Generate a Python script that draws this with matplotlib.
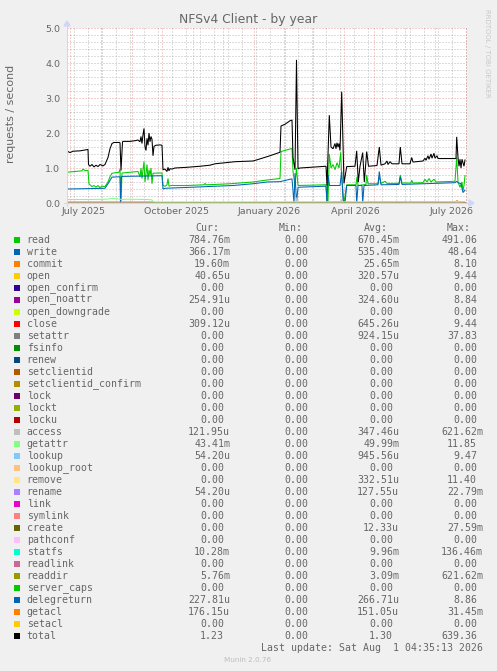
import matplotlib
matplotlib.use("Agg")
import matplotlib.pyplot as plt
from matplotlib.patches import Rectangle, Polygon
from matplotlib.lines import Line2D

# ---------------- data ----------------
names = ["read", "write", "commit", "open", "open_confirm", "open_noattr", "open_downgrade",
         "close", "setattr", "fsinfo", "renew", "setclientid", "setclientid_confirm", "lock",
         "lockt", "locku", "access", "getattr", "lookup", "lookup_root", "remove", "rename",
         "link", "symlink", "create", "pathconf", "statfs", "readlink", "readdir",
         "server_caps", "delegreturn", "getacl", "setacl", "total"]
colors = ["#00CC00", "#0066B3", "#FF8000", "#FFCC00", "#330099", "#990099", "#CCFF00",
          "#FF0000", "#808080", "#008F00", "#00487D", "#B35A00", "#B38F00", "#6B006B",
          "#8FB300", "#B30000", "#BEBEBE", "#80FF80", "#80C9FF", "#FFC080", "#FFE680",
          "#AA80FF", "#EE00CC", "#FF8080", "#666600", "#FFBFFF", "#00FFCC", "#CC6699",
          "#999900", "#00CC00", "#0066B3", "#FF8000", "#FFCC00", "#000000"]
cur = ["784.76m", "366.17m", "19.60m", "40.65u", "0.00", "254.91u", "0.00", "309.12u", "0.00",
       "0.00", "0.00", "0.00", "0.00", "0.00", "0.00", "0.00", "121.95u", "43.41m", "54.20u",
       "0.00", "0.00", "54.20u", "0.00", "0.00", "0.00", "0.00", "10.28m", "0.00", "5.76m",
       "0.00", "227.81u", "176.15u", "0.00", "1.23"]
mins = ["0.00"] * 34
avg = ["670.45m", "535.40m", "25.65m", "320.57u", "0.00", "324.60u", "0.00", "645.26u",
       "924.15u", "0.00", "0.00", "0.00", "0.00", "0.00", "0.00", "0.00", "347.46u", "49.99m",
       "945.56u", "0.00", "332.51u", "127.55u", "0.00", "0.00", "12.33u", "0.00", "9.96m",
       "0.00", "3.09m", "0.00", "266.71u", "151.05u", "0.00", "1.30"]
mx = ["491.06", "48.64", "8.10", "9.44", "0.00", "8.84", "0.00", "9.44", "37.83", "0.00",
      "0.00", "0.00", "0.00", "0.00", "0.00", "0.00", "621.62m", "11.85", "9.47", "0.00",
      "11.40", "22.79m", "0.00", "0.00", "27.59m", "0.00", "136.46m", "0.00", "621.62m",
      "0.00", "8.86", "31.45m", "0.00", "639.36"]

# time axis: days since 28 Jun 2025
month_starts = [3, 34, 65, 95, 126, 156, 187, 218, 246, 277, 307, 338, 368, 399]
label_days = [17, 109, 202, 288, 385]
label_text = ["July 2025", "October 2025", "January 2026", "April 2026", "July 2026"]
week2_first = 7.3

total_x = [0, 1, 3, 6, 13, 21, 21.5, 23, 25, 27, 29, 31, 33, 36, 38, 41, 43, 45, 47, 52, 53, 54,
           55.5, 56, 63, 68, 71, 73, 74, 75, 76, 77, 78, 79, 80, 81, 82, 83, 84, 85, 86, 87, 89,
           93, 95, 96, 98, 100, 101, 102, 103, 105, 108, 120, 133, 143, 148, 158, 168, 186, 193,
           203, 213, 214, 218, 223, 225, 226, 228, 229.5, 231, 233, 243, 253, 259, 260, 262.3,
           264, 266, 268, 269, 270, 271, 272, 273, 274.7, 277, 279.7, 288, 289.7, 291.3, 293,
           295.7, 297.3, 299.7, 301.5, 310, 312.3, 314, 318, 320, 321, 323, 325, 332, 333.3,
           335, 343, 344.7, 346, 356, 358, 359, 361, 362, 364, 365, 367, 368, 370, 371, 375,
           385, 389, 389.7, 391, 392, 393, 394, 395, 397, 398]
total_y = [1.45, 1.47, 1.44, 1.48, 1.49, 1.53, 1.10, 1.05, 1.10, 1.03, 1.08, 1.04, 1.10, 1.06,
           1.10, 1.30, 1.55, 1.70, 1.73, 1.73, 1.72, 0.93, 1.74, 1.76, 1.76, 1.78, 1.80, 1.75,
           1.90, 1.70, 1.95, 2.13, 1.60, 1.50, 1.85, 1.65, 2.00, 1.75, 1.90, 1.82, 1.35, 1.62,
           1.65, 1.66, 1.65, 0.95, 0.97, 0.90, 1.02, 0.92, 0.98, 0.97, 1.00, 1.02, 1.05, 1.08,
           1.12, 1.15, 1.18, 1.20, 1.26, 1.35, 1.45, 2.20, 2.25, 2.35, 2.37, 1.30, 0.95, 4.09,
           0.98, 1.00, 1.02, 1.04, 1.05, 0.50, 2.51, 1.60, 1.55, 1.70, 1.55, 1.72, 1.60, 1.70,
           1.50, 3.18, 0.56, 1.04, 1.05, 1.49, 0.60, 1.05, 1.44, 0.60, 1.47, 1.05, 1.07, 1.60,
           1.08, 1.12, 1.20, 1.10, 1.18, 1.12, 1.12, 1.60, 1.12, 1.12, 1.30, 1.17, 1.20, 1.28,
           1.22, 1.35, 1.25, 1.40, 1.28, 1.42, 1.28, 1.35, 1.27, 1.27, 1.27, 1.27, 1.89, 1.30,
           1.05, 1.25, 1.00, 1.25, 1.05, 1.23]

read_x = [0, 8, 15, 16, 18, 21, 22, 23, 25, 27, 29, 31, 33, 35, 38, 41, 43, 45, 52, 53, 54, 55,
          56, 71, 73, 74, 75, 76, 77, 78, 79, 80, 81, 82, 83, 84, 85, 86, 95, 96, 98, 100, 101,
          102, 104, 120, 137, 138, 139, 148, 163, 186, 198, 213, 214, 225, 226, 228, 229.5, 231,
          259, 260, 261, 262.3, 264, 266, 268, 270, 272, 273.7, 275, 277, 279.7, 289, 290, 291,
          299, 299.7, 301, 311, 312.3, 314, 318, 320, 332, 333.3, 335, 344, 344.7, 346, 356,
          358, 360, 362, 364, 367, 369, 388, 389.7, 391, 393, 395, 396, 397, 398]
read_y = [0.88, 0.90, 0.92, 0.97, 0.93, 0.93, 0.55, 0.52, 0.47, 0.50, 0.45, 0.50, 0.44, 0.48,
          0.47, 0.60, 0.75, 0.85, 0.88, 0.97, 0.05, 0.85, 0.86, 0.90, 0.75, 1.00, 0.70, 0.95,
          1.18, 0.60, 0.85, 1.10, 0.65, 0.95, 0.80, 1.00, 0.55, 0.85, 0.86, 0.50, 0.48, 0.52,
          0.70, 0.48, 0.50, 0.50, 0.52, 0.56, 0.52, 0.53, 0.55, 0.60, 0.65, 0.70, 1.47, 1.56,
          0.90, 0.50, 1.00, 0.50, 0.52, 0.05, 0.05, 1.40, 1.00, 1.10, 0.95, 1.15, 1.00, 1.45,
          0.60, 0.00, 0.52, 0.52, 0.75, 0.50, 0.53, 0.80, 0.55, 0.55, 0.75, 0.56, 0.62, 0.56,
          0.56, 0.80, 0.57, 0.57, 0.65, 0.57, 0.58, 0.68, 0.60, 0.70, 0.60, 0.68, 0.60, 0.62,
          1.30, 0.60, 0.45, 0.60, 0.35, 0.50, 0.785]

write_x = [0, 38, 41, 45, 53, 53.5, 54.5, 56, 95, 96, 98, 133, 166, 186, 200, 213, 225, 227,
           228, 229.5, 231, 259, 260, 261, 262.5, 273, 274.7, 276, 278, 279.7, 289, 289.7, 291,
           295, 295.7, 297, 311, 312.3, 314, 332, 333.3, 335, 388, 389.7, 391, 394, 396, 398]
write_y = [0.40, 0.42, 0.55, 0.74, 0.75, 0.00, 0.75, 0.76, 0.78, 0.40, 0.42, 0.46, 0.50, 0.55,
           0.60, 0.61, 0.69, 0.00, 0.85, 0.00, 0.45, 0.48, 0.00, 0.80, 0.50, 0.50, 0.90, 0.10,
           0.00, 0.50, 0.50, 0.00, 0.50, 0.50, 0.00, 0.50, 0.52, 0.90, 0.52, 0.53, 0.75, 0.53,
           0.58, 0.62, 0.58, 0.55, 0.30, 0.366]

getattr_x = [0, 20, 40, 45, 50, 55, 60, 80, 85, 86, 150, 250, 398]
getattr_y = [0.10, 0.10, 0.11, 0.13, 0.12, 0.10, 0.11, 0.10, 0.09, 0.03, 0.03, 0.035, 0.043]

commit_x = [0, 86, 87, 259, 260, 275, 276, 300, 301, 325, 330, 340, 365, 388, 390, 392, 398]
commit_y = [0.03, 0.03, 0.005, 0.005, 0.03, 0.03, 0.005, 0.005, 0.03, 0.03, 0.02, 0.035, 0.03,
            0.03, 0.07, 0.03, 0.02]

access_x = [0, 229, 229.5, 230, 274, 275, 276, 398]
access_y = [0, 0, 0.15, 0, 0, 0.12, 0, 0]

statfs_x = [0, 398]
statfs_y = [0.01, 0.01]

# ---------------- figure ----------------
W, H = 497, 671
BG = "#F0F0F0"
FONT = "#666666"
AXC = "#CFD6F8"
fig = plt.figure(figsize=(W / 100, H / 100), dpi=100, facecolor=BG)


def fx(px):
    return px / W


def fy(py):
    return 1 - py / H


ax = fig.add_axes([fx(67), fy(203), 400 / W, 175 / H])
ax.set_facecolor("white")
ax.set_xlim(0, 400)
ax.set_ylim(0, 5)
for s in ax.spines.values():
    s.set_visible(False)

grid_c = (0.56, 0.56, 0.56, 0.6)
mgrid_c = (0.87, 0.31, 0.31, 0.55)
dot = (0, (1, 2))
lw1 = 0.72
for k in range(26):
    v = k * 0.2
    if k % 5 != 0:
        ax.axhline(v, color=grid_c, lw=lw1, ls=dot, zorder=0)
d = week2_first
while d < 400:
    ax.axvline(d, color=grid_c, lw=lw1, ls=dot, zorder=0)
    d += 14
for m in month_starts:
    ax.axvline(m, color=mgrid_c, lw=lw1, ls=dot, zorder=0.5)
for v in range(1, 6):
    ax.axhline(v, color=mgrid_c, lw=lw1, ls=dot, zorder=0.5)

series = {
    "read": (read_x, read_y),
    "write": (write_x, write_y),
    "commit": (commit_x, commit_y),
    "access": (access_x, access_y),
    "getattr": (getattr_x, getattr_y),
    "statfs": (statfs_x, statfs_y),
    "total": (total_x, total_y),
}
for i, (n, c) in enumerate(zip(names, colors)):
    xs, ys = series.get(n, ([0, 398], [0, 0]))
    ax.plot(xs, ys, color=c, lw=lw1 * 1.05, zorder=2 + i * 0.01, solid_joinstyle="miter")

ax.set_yticks([0, 1, 2, 3, 4, 5])
ax.set_yticklabels(["0.0", "1.0", "2.0", "3.0", "4.0", "5.0"])
ax.set_xticks(label_days)
ax.set_xticklabels(label_text)
ax.tick_params(axis="y", length=0, pad=5, labelsize=6.8, labelcolor=FONT)
ax.tick_params(axis="x", length=0, pad=2.6, labelsize=6.8, labelcolor=FONT)

# axes with arrows
fig.add_artist(Line2D([fx(64), fx(470)], [fy(203), fy(203)], color=AXC, lw=lw1, zorder=5))
fig.add_artist(Line2D([fx(67), fx(67)], [fy(206), fy(25)], color=AXC, lw=lw1, zorder=5))
fig.add_artist(Polygon([(fx(469), fy(200)), (fx(474), fy(203)), (fx(469), fy(206))],
                       closed=True, color=AXC, transform=fig.transFigure, zorder=5))
fig.add_artist(Polygon([(fx(64), fy(26)), (fx(67), fy(21)), (fx(70), fy(26))],
                       closed=True, color=AXC, transform=fig.transFigure, zorder=5))

# titles
fig.text(fx(248), fy(19), "NFSv4 Client - by year", ha="center", va="center",
         fontsize=8.9, color=FONT)
fig.text(fx(11), fy(114), "requests / second", rotation=90, ha="center", va="center",
         fontsize=7.9, color=FONT)
fig.text(fx(487), fy(53), "RRDTOOL / TOBI OETIKER", rotation=270, ha="center", va="center",
         fontsize=5.0, color="#C8C8C8")

# legend
MONO = "DejaVu Sans Mono"
LFS = 7.1
cw = 5.97
row0 = 239.7
dy = 12
col_end = [230.0, 314.3, 399.0, 483.0]
for txt, xl in zip(["Cur:", "Min:", "Avg:", "Max:"], [195, 279, 364, 447]):
    fig.text(fx(xl), fy(228), txt, ha="left", va="center", fontsize=LFS, family=MONO, color=FONT)


def put_val(s, end, yc):
    n = len(s) if s[-1].isalpha() else len(s) + 1
    fig.text(fx(end - n * cw), fy(yc), s, ha="left", va="center", fontsize=LFS,
             family=MONO, color=FONT)


for i, n in enumerate(names):
    yc = row0 + dy * i
    fig.add_artist(Rectangle((fx(14), fy(yc + 3)), 6 / W, 6 / H, transform=fig.transFigure,
                             color=colors[i], lw=0))
    fig.text(fx(26.7), fy(yc), n, ha="left", va="center", fontsize=LFS, family=MONO, color=FONT)
    for vals, end in zip([cur, mins, avg, mx], col_end):
        put_val(vals[i], end, yc)

fig.text(fx(483.3), fy(648.3), "Last update: Sat Aug  1 04:35:13 2026", ha="right", va="center",
         fontsize=LFS, family=MONO, color=FONT)
fig.text(fx(248), fy(660), "Munin 2.0.76", ha="center", va="center", fontsize=5.2,
         color="#BDBDBD")

fig.savefig("out.png", dpi=100, facecolor=BG)
